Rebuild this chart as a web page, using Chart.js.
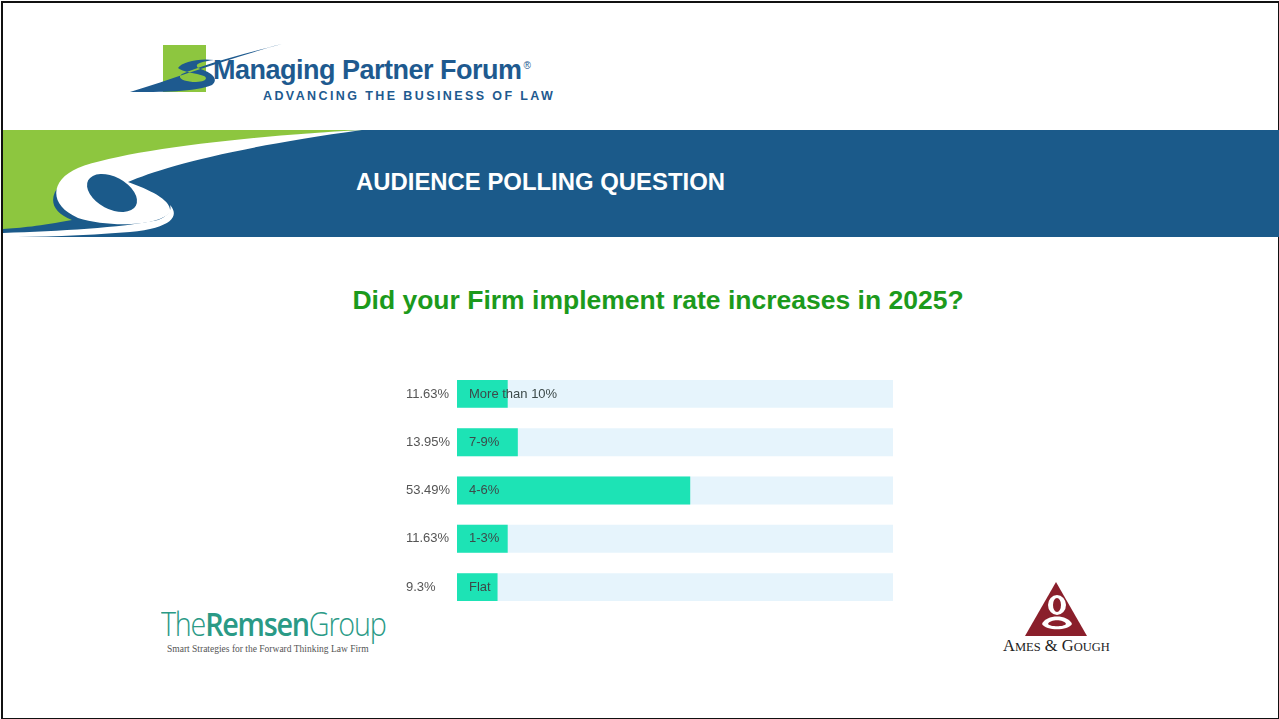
<!DOCTYPE html>
<html><head><meta charset="utf-8">
<script src="https://cdn.jsdelivr.net/npm/chart.js@4/dist/chart.umd.min.js"></script>
<style>
html,body{margin:0;padding:0;background:#fff;}
body{width:1279px;height:719px;position:relative;overflow:hidden;font-family:"Liberation Sans",Arial,sans-serif;}
#frame{position:absolute;left:1px;top:1px;width:1275px;height:715px;border:2px solid #111;box-sizing:content-box;}
.abs{position:absolute;}
#mpf{left:213px;top:54px;font-size:27px;line-height:32px;font-weight:bold;color:#1e5a8f;letter-spacing:-0.5px;white-space:nowrap;}
#mpf sup{font-size:10px;font-weight:normal;vertical-align:top;position:relative;top:-4px;margin-left:2px;}
#adv{left:263px;top:89px;font-size:12.5px;font-weight:bold;color:#1e5a8f;letter-spacing:2.4px;white-space:nowrap;}
#title{left:356px;top:168px;font-size:23.9px;line-height:28px;font-weight:bold;color:#fff;white-space:nowrap;}
#question{left:0;width:1316px;top:284px;text-align:center;font-size:26.5px;line-height:32px;font-weight:bold;color:#1c9a1c;white-space:nowrap;}
#chartbox{left:406px;top:356px;width:494px;height:269px;}
#remsen{left:161px;top:609px;font-size:33px;line-height:30px;height:30px;color:#2a9a86;white-space:nowrap;letter-spacing:-1.4px;transform:scaleX(0.87);transform-origin:0 0;}
#remsen .t{font-weight:300;font-family:"Open Sans",sans-serif;}
#remsen .b{font-weight:600;font-family:"Open Sans",sans-serif;}
#remsub{left:167px;top:644px;font-size:9.5px;line-height:10px;color:#555;font-family:"Liberation Serif",serif;white-space:nowrap;}
#ames{left:1003px;top:637px;font-family:"Liberation Serif",serif;font-size:16.5px;line-height:18px;color:#222;white-space:nowrap;}
#ames small{font-size:12.5px;}
</style></head>
<body>
<div id="frame"></div>
<svg class="abs" style="left:0;top:0" width="1279" height="719">
  <!-- header logo -->
  <rect x="163" y="45" width="43" height="47" fill="#8dc63f"/>
  <path d="M130,92 C175,78 230,58 282,44 C235,56 200,66 182,74 C176,78 184,82 196,82 C206,82 208,78 204,76 C196,73 182,72 178,68 C182,62 198,58 214,60 C200,62 194,64 198,68 C210,72 220,78 212,85 C196,92 160,92 130,92 Z" fill="#1e5a8f"/>
  <!-- banner -->
  <rect x="3" y="130" width="1276" height="107" fill="#1b5a8a"/>
  <path d="M3,130 H362 C240,138 120,152 80,170 C50,186 42,208 72,220 C40,226 20,228 3,229 Z" fill="#8dc63f"/>
  <path d="M362,130 C250,136 125,150 78,168 C50,180 48,205 78,218 C110,228 160,226 170,212 C172,200 150,190 128,182 C160,168 230,148 362,130 Z" fill="#fff"/>
  <ellipse cx="112" cy="193" rx="27" ry="16" transform="rotate(28 112 193)" fill="#1b5a8a"/>
  <path d="M3,237 L3,233 C60,231 120,228 158,220 C168,216 172,210 170,205 C180,216 172,228 130,232 C80,236 40,237 3,237 Z" fill="#fff"/>
  <!-- Ames & Gough mark -->
  <polygon points="1056,582 1087,636 1025,636" fill="#8a1f2b"/>
  <ellipse cx="1057" cy="605" rx="9" ry="10" fill="#fff"/>
  <ellipse cx="1057" cy="605" rx="4" ry="7" fill="#8a1f2b"/>
  <path d="M1042,624 C1046,614 1068,614 1072,624 C1068,631 1046,631 1042,624 Z" fill="#fff"/>
  <path d="M1048,624 C1050,619 1064,619 1066,624 C1064,627 1050,627 1048,624 Z" fill="#8a1f2b"/>
</svg>
<div id="mpf" class="abs">Managing Partner Forum<sup>®</sup></div>
<div id="adv" class="abs">ADVANCING THE BUSINESS OF LAW</div>
<div id="title" class="abs">AUDIENCE POLLING QUESTION</div>
<div id="question" class="abs">Did your Firm implement rate increases in 2025?</div>
<div id="chartbox" class="abs"><canvas id="c"></canvas></div>
<div id="remsen" class="abs"><span class="t">The</span><span class="b">Remsen</span><span class="t">Group</span></div>
<div id="remsub" class="abs">Smart Strategies for the Forward Thinking Law Firm</div>
<div id="ames" class="abs">A<small>MES</small> &amp; G<small>OUGH</small></div>
<script>
const categories = ["More than 10%", "7-9%", "4-6%", "1-3%", "Flat"];
const percentages = [11.63, 13.95, 53.49, 11.63, 9.3];
const trackValues = [100, 100, 100, 100, 100];
const tickLabels = ["11.63%", "13.95%", "53.49%", "11.63%", "9.3%"];

const innerLabels = {
  id: 'innerLabels',
  afterDatasetsDraw(chart) {
    const ctx = chart.ctx;
    const meta = chart.getDatasetMeta(0);
    ctx.save();
    ctx.font = '13px "Liberation Sans", Arial, sans-serif';
    ctx.fillStyle = '#3d4a4a';
    ctx.textBaseline = 'middle';
    ctx.textAlign = 'left';
    meta.data.forEach((bar, i) => {
      ctx.fillText(categories[i], bar.base + 12, bar.y);
    });
    ctx.restore();
  }
};

new Chart(document.getElementById('c'), {
  type: 'bar',
  data: {
    labels: tickLabels,
    datasets: [
      { data: percentages, backgroundColor: '#1de3b5', order: 1, grouped: false,
        categoryPercentage: 0.577, barPercentage: 1.0 },
      { data: trackValues, backgroundColor: '#e6f4fc', order: 2, grouped: false,
        categoryPercentage: 0.577, barPercentage: 1.0 }
    ]
  },
  options: {
    indexAxis: 'y',
    responsive: true,
    maintainAspectRatio: false,
    animation: false,
    layout: { padding: { left: 0, right: 7, top: 0, bottom: 0 } },
    plugins: { legend: { display: false }, tooltip: { enabled: false } },
    scales: {
      x: { display: false, min: 0, max: 100 },
      y: {
        grid: { display: false },
        border: { display: false },
        afterFit(scale) { scale.width = 51; },
        ticks: {
          crossAlign: 'far',
          padding: 6,
          color: '#555',
          font: { size: 13, family: '"Liberation Sans", Arial, sans-serif' }
        }
      }
    }
  },
  plugins: [innerLabels]
});
</script>
</body></html>
